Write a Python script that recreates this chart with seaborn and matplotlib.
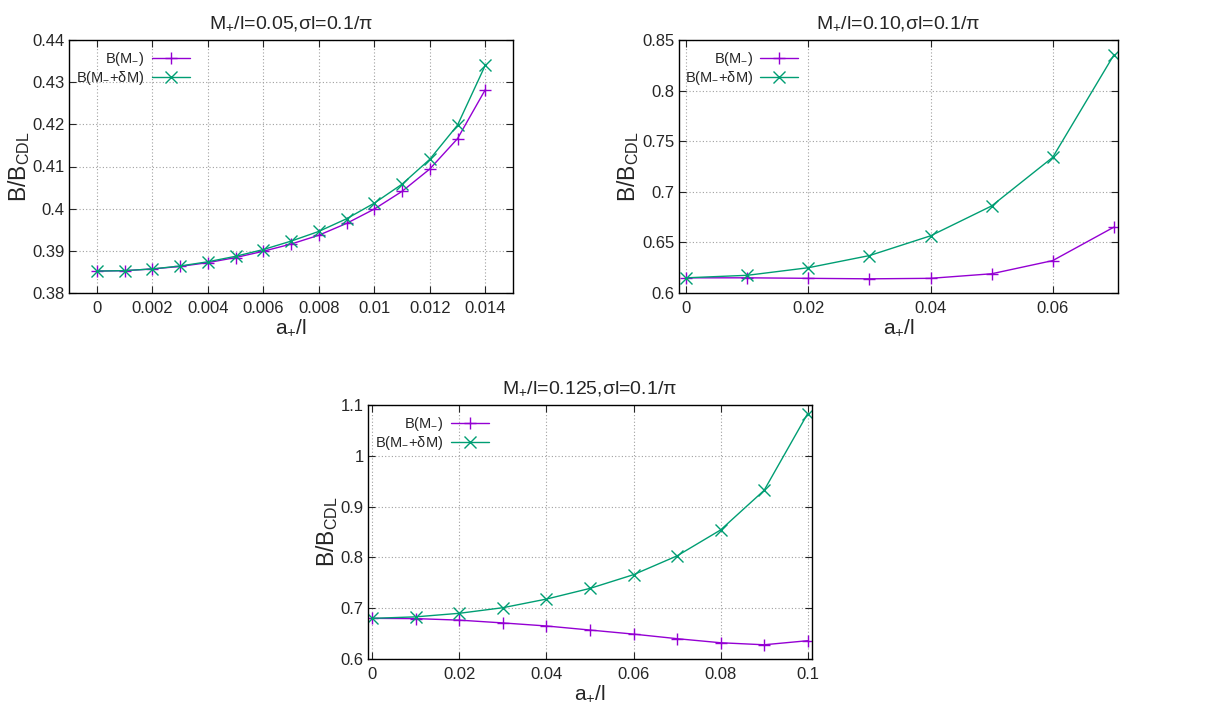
import numpy as np
import pandas as pd
import matplotlib
matplotlib.use("Agg")
import matplotlib.pyplot as plt
from matplotlib.ticker import FuncFormatter, MultipleLocator
import seaborn as sns

# Data
a1 = [0, 0.001, 0.002, 0.003, 0.004, 0.005, 0.006, 0.007,
      0.008, 0.009, 0.010, 0.011, 0.012, 0.013, 0.014]
bm1 = [0.3852, 0.3853, 0.3857, 0.3863, 0.3872, 0.3884, 0.3899, 0.3916,
       0.3937, 0.3965, 0.3999, 0.4041, 0.4094, 0.4166, 0.4282]
bd1 = [0.3852, 0.3853, 0.3857, 0.3864, 0.3874, 0.3887, 0.3903, 0.3923,
       0.3946, 0.3976, 0.4013, 0.4058, 0.4117, 0.4198, 0.4340]

a2 = [0, 0.01, 0.02, 0.03, 0.04, 0.05, 0.06, 0.07]
bm2 = [0.615, 0.615, 0.6145, 0.614, 0.6145, 0.619, 0.632, 0.665]
bd2 = [0.615, 0.6175, 0.625, 0.637, 0.6565, 0.686, 0.734, 0.835]

a3 = [0, 0.01, 0.02, 0.03, 0.04, 0.05, 0.06, 0.07, 0.08, 0.09, 0.10]
bm3 = [0.680, 0.6795, 0.6765, 0.671, 0.665, 0.657, 0.649, 0.640, 0.632, 0.628, 0.636]
bd3 = [0.680, 0.683, 0.690, 0.701, 0.718, 0.739, 0.766, 0.803, 0.854, 0.932, 1.083]

titles = [r"M$_{+}$/l=0.05,σl=0.1/π",
          r"M$_{+}$/l=0.10,σl=0.1/π",
          r"M$_{+}$/l=0.125,σl=0.1/π"]
labels = [r"B(M$_{-}$)", r"B(M$_{-}$+δM)"]

sns.set_style("ticks")
plt.rcParams["font.family"] = ["Liberation Sans", "DejaVu Sans"]
plt.rcParams["mathtext.fontset"] = "custom"
plt.rcParams["mathtext.rm"] = "Liberation Sans"
plt.rcParams["mathtext.it"] = "Liberation Sans"
plt.rcParams["mathtext.bf"] = "Liberation Sans"

purple = "#9400D3"
green = "#009E73"

W, H = 1208, 706
fig = plt.figure(figsize=(W / 100, H / 100), dpi=100)


def make_ax(l, r, t, b):
    return fig.add_axes([l / W, 1 - b / H, (r - l) / W, (b - t) / H])


panels = [
    (make_ax(69, 513, 40, 293), a1, bm1, bd1, (-0.001, 0.015), 0.002, (0.38, 0.44), 0.01, -0.083),
    (make_ax(679, 1118, 40, 293), a2, bm2, bd2, (-0.0012, 0.0707), 0.02, (0.6, 0.85), 0.05, -0.086),
    (make_ax(368, 812, 405, 659), a3, bm3, bd3, (-0.001, 0.101), 0.02, (0.6, 1.1), 0.1, -0.062),
]

fmt = FuncFormatter(lambda v, p: "%g" % round(v, 6))

for i, (ax, a, bm, bd, xl, xs, yl, ys, ylx) in enumerate(panels):
    df = pd.DataFrame({"a": a, "bm": bm, "bd": bd})
    sns.lineplot(data=df, x="a", y="bm", ax=ax, color=purple, lw=1.0,
                 marker="+", markersize=9, markeredgewidth=1.0,
                 markeredgecolor=purple, label=labels[0])
    sns.lineplot(data=df, x="a", y="bd", ax=ax, color=green, lw=1.0,
                 marker="x", markersize=8, markeredgewidth=1.0,
                 markeredgecolor=green, label=labels[1])
    ax.set_xlim(*xl)
    ax.set_ylim(*yl)
    ax.xaxis.set_major_locator(MultipleLocator(xs))
    ax.yaxis.set_major_locator(MultipleLocator(ys))
    ax.xaxis.set_major_formatter(fmt)
    ax.yaxis.set_major_formatter(fmt)
    ax.grid(True, color="#a0a0a0", linestyle=(0, (1, 2)), lw=0.8)
    ax.tick_params(direction="in", top=True, right=True, length=5,
                   labelsize=12, width=0.8)
    ax.tick_params(axis="x", pad=6)
    ax.tick_params(axis="y", pad=3)
    for sp in ax.spines.values():
        sp.set_linewidth(1.0)
        sp.set_color("black")
    ax.set_title(titles[i], fontsize=14, pad=8)
    ax.set_xlabel(r"a$_{+}$/l", fontsize=15, labelpad=1)
    ax.set_ylabel(r"B/B$_{\mathrm{CDL}}$", fontsize=16.5)
    ax.yaxis.set_label_coords(ylx, 0.5)
    leg = ax.legend(loc="upper right", bbox_to_anchor=(0.295, 1.0),
                    frameon=False, markerfirst=False, alignment="right",
                    fontsize=10.5, handlelength=2.6, handletextpad=0.5,
                    labelspacing=0.05, borderaxespad=0.3)
    for t in leg.get_texts():
        t.set_horizontalalignment("right")

fig.savefig("out.png", dpi=100)
